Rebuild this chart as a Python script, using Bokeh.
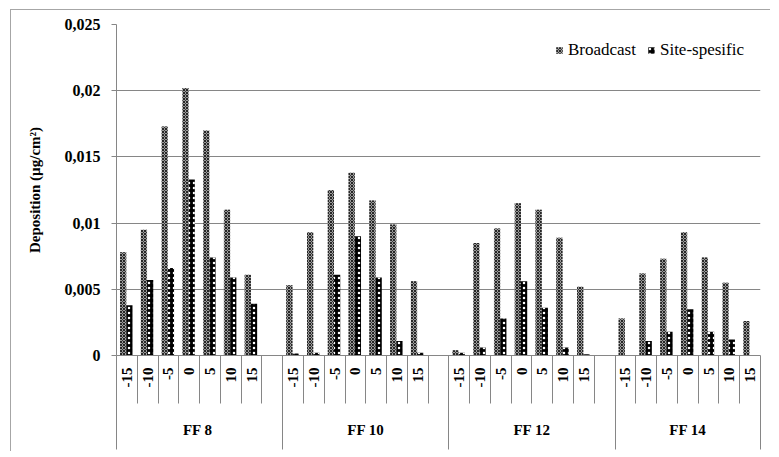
import math
from bokeh.plotting import figure
from bokeh.models import (ColumnDataSource, Range1d, LinearAxis, FixedTicker, Legend)
from bokeh.transform import dodge
from bokeh.embed import file_html
from bokeh.resources import INLINE

# ---- data ----
POSITIONS = ["-15", "-10", "-5", "0", "5", "10", "15"]
GROUPS = ["FF  8", "FF 10", "FF 12", "FF 14"]
SLOTS_PER_GROUP = [8, 8, 8, 7]   # 7 positions + one blank slot between groups

BROADCAST_FF8 = [0.0078, 0.0095, 0.0173, 0.0202, 0.0170, 0.0110, 0.0061]
SITE_FF8 = [0.0038, 0.0057, 0.0066, 0.0133, 0.0074, 0.0059, 0.0039]
BROADCAST_FF10 = [0.0053, 0.0093, 0.0125, 0.0138, 0.0117, 0.0099, 0.0056]
SITE_FF10 = [0.00015, 0.0002, 0.0061, 0.0090, 0.0059, 0.0011, 0.0002]
BROADCAST_FF12 = [0.0004, 0.0085, 0.0096, 0.0115, 0.0110, 0.0089, 0.0052]
SITE_FF12 = [0.0002, 0.0006, 0.0028, 0.0056, 0.0036, 0.0006, 0.0001]
BROADCAST_FF14 = [0.0028, 0.0062, 0.0073, 0.0093, 0.0074, 0.0055, 0.0026]
SITE_FF14 = [0.0, 0.0011, 0.0018, 0.0035, 0.0018, 0.0012, 0.0]

Y_TICKS = [0, 0.005, 0.01, 0.015, 0.02, 0.025]
Y_TICK_LABELS = ["0", "0,005", "0,01", "0,015", "0,02", "0,025"]

broadcast = [BROADCAST_FF8, BROADCAST_FF10, BROADCAST_FF12, BROADCAST_FF14]
site = [SITE_FF8, SITE_FF10, SITE_FF12, SITE_FF14]

# ---- build table on slot scale ----
xs, bvals, svals = [], [], []
tick_centers, tick_labels_map = [], {}
boundaries = [0]
group_centers, group_labels_map, group_bounds = [], {}, [0]
start = 0
for g, n in enumerate(SLOTS_PER_GROUP):
    for i, pos in enumerate(POSITIONS):
        c = start + i + 0.5
        xs.append(c)
        bvals.append(broadcast[g][i])
        svals.append(site[g][i])
        tick_centers.append(c)
        tick_labels_map[c] = pos
    for k in range(1, n + 1):
        boundaries.append(start + k)
    gc = start + n / 2
    group_centers.append(gc)
    group_labels_map[gc] = GROUPS[g]
    start += n
    group_bounds.append(start)

src = ColumnDataSource(dict(x=xs, b=bvals, s=svals))

GRID = "#868686"
FONT = "Liberation Serif"

p = figure(width=760, height=442, output_backend="svg", toolbar_location=None,
           x_range=Range1d(0, start), y_range=Range1d(0, 0.025),
           x_axis_type=None,
           min_border_left=105, min_border_right=11, min_border_top=14,
           min_border_bottom=97)
p.styles = {"margin-left": "10px", "margin-top": "9px",
            "border-left": "1px solid #a6a6a6", "border-top": "1px solid #a6a6a6"}
p.outline_line_color = None
p.background_fill_color = "white"
p.border_fill_color = "white"

W = 0.3
rb = p.vbar(x=dodge("x", -0.18, range=p.x_range), top="b", width=W, source=src,
            fill_color="#9c9c9c", line_color=None,
            hatch_pattern="diagonal_cross", hatch_color="#262626", hatch_scale=3,
            hatch_weight=1)
rs = p.vbar(x=dodge("x", 0.12, range=p.x_range), top="s", width=W, source=src,
            fill_color="#000000", line_color=None,
            hatch_pattern="dot", hatch_color="#ffffff", hatch_scale=5,
            hatch_weight=1)

# y axis
yax = p.yaxis[0]
yax.ticker = FixedTicker(ticks=Y_TICKS)
yax.major_label_overrides = dict(zip(Y_TICKS, Y_TICK_LABELS))
yax.axis_line_color = GRID
yax.major_tick_line_color = GRID
yax.major_tick_out = 5
yax.major_tick_in = 0
yax.minor_tick_line_color = None
yax.major_label_standoff = 11
yax.major_label_text_font = FONT
yax.major_label_text_font_style = "bold"
yax.major_label_text_font_size = "16px"
yax.major_label_text_color = "black"
yax.axis_label = "Deposition (µg/cm²)"
yax.axis_label_text_font = FONT
yax.axis_label_text_font_style = "bold"
yax.axis_label_text_font_size = "15px"
yax.axis_label_text_color = "black"
yax.axis_label_standoff = 19

p.ygrid.ticker = FixedTicker(ticks=Y_TICKS)
p.ygrid.grid_line_color = GRID
p.xgrid.visible = False

# x axis: positions + slot dividers
ax1 = LinearAxis(ticker=FixedTicker(ticks=tick_centers, minor_ticks=boundaries))
ax1.major_label_overrides = tick_labels_map
ax1.major_label_orientation = math.pi / 2
ax1.major_tick_in = 0
ax1.major_tick_out = 0
ax1.major_tick_line_color = None
ax1.minor_tick_in = 0
ax1.minor_tick_out = 48
ax1.minor_tick_line_color = GRID
ax1.axis_line_color = GRID
ax1.major_label_standoff = -36
ax1.major_label_text_font = FONT
ax1.major_label_text_font_style = "bold"
ax1.major_label_text_font_size = "15px"
ax1.major_label_text_color = "black"
p.add_layout(ax1, "below")

# x axis: groups + group dividers
ax2 = LinearAxis(ticker=FixedTicker(ticks=group_centers, minor_ticks=group_bounds))
ax2.major_label_overrides = group_labels_map
ax2.major_tick_in = 0
ax2.major_tick_out = 0
ax2.major_tick_line_color = None
ax2.minor_tick_in = 0
ax2.minor_tick_out = 59
ax2.minor_tick_line_color = GRID
ax2.axis_line_color = None
ax2.major_label_standoff = -28
ax2.major_label_text_font = FONT
ax2.major_label_text_font_style = "bold"
ax2.major_label_text_font_size = "15px"
ax2.major_label_text_color = "black"
p.add_layout(ax2, "below")

legend = Legend(items=[("Broadcast", [rb]), ("Site-spesific", [rs])],
                location="top_right", orientation="horizontal")
legend.border_line_color = None
legend.background_fill_alpha = 0
legend.label_text_font = FONT
legend.label_text_font_size = "17px"
legend.label_text_color = "black"
legend.glyph_width = 8
legend.glyph_height = 8
legend.label_standoff = 5
legend.spacing = 11
legend.padding = 0
legend.margin = 16
p.add_layout(legend)

open("out.html", "w").write(file_html(p, INLINE))
